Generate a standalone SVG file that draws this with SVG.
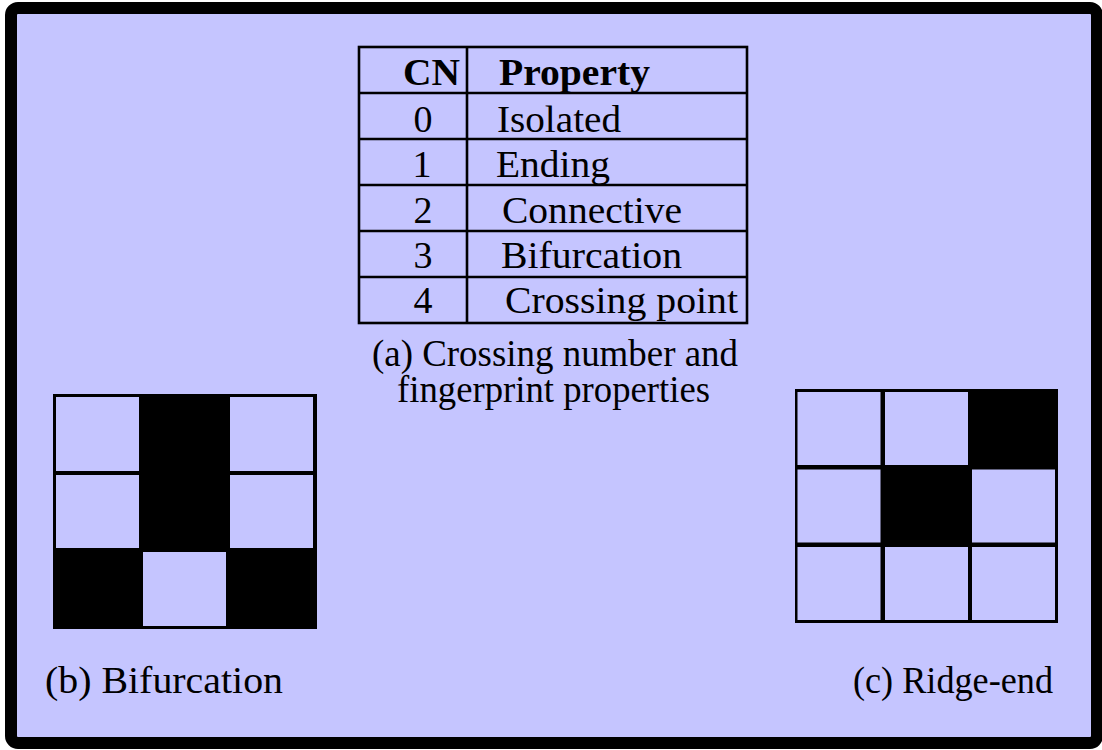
<svg xmlns="http://www.w3.org/2000/svg" width="1102" height="750" viewBox="0 0 1102 750">
<style>
.t{font-family:"Liberation Serif","Times New Roman",serif;font-size:38px;fill:#000}
.b{font-weight:bold}
.m{text-anchor:middle}
.ln{stroke:#000;stroke-width:2.6;fill:none}
.c{fill:#c5c5ff}
</style>
<g id="frame">
<rect x="11" y="8" width="1086" height="735" rx="7" fill="#c5c5ff" stroke="#000" stroke-width="12"/>
</g>
<g id="table">
<rect class="ln" x="359" y="47" width="388" height="276"/>
<line class="ln" x1="467" y1="47" x2="467" y2="323"/>
<line class="ln" x1="359" y1="93" x2="747" y2="93"/>
<line class="ln" x1="359" y1="139" x2="747" y2="139"/>
<line class="ln" x1="359" y1="185" x2="747" y2="185"/>
<line class="ln" x1="359" y1="231" x2="747" y2="231"/>
<line class="ln" x1="359" y1="277" x2="747" y2="277"/>
<text class="t b" x="403" y="85" textLength="57" lengthAdjust="spacingAndGlyphs">CN</text>
<text class="t b" x="499" y="85" textLength="151" lengthAdjust="spacingAndGlyphs">Property</text>
<text class="t m" x="423" y="132">0</text>
<text class="t m" x="422" y="177">1</text>
<text class="t m" x="423" y="223">2</text>
<text class="t m" x="423" y="268">3</text>
<text class="t m" x="423" y="313">4</text>
<text class="t" x="497" y="132" textLength="124" lengthAdjust="spacingAndGlyphs">Isolated</text>
<text class="t" x="496" y="177" textLength="114" lengthAdjust="spacingAndGlyphs">Ending</text>
<text class="t" x="502" y="223" textLength="180" lengthAdjust="spacingAndGlyphs">Connective</text>
<text class="t" x="501" y="268" textLength="181" lengthAdjust="spacingAndGlyphs">Bifurcation</text>
<text class="t" x="505" y="313" textLength="233" lengthAdjust="spacingAndGlyphs">Crossing point</text>
</g>
<g id="caption-a">
<text class="t" x="372" y="366" textLength="366" lengthAdjust="spacingAndGlyphs">(a) Crossing number and</text>
<text class="t" x="397" y="402" textLength="313" lengthAdjust="spacingAndGlyphs">fingerprint properties</text>
</g>
<g id="bifurcation">
<rect x="53" y="394" width="264" height="235" fill="#000"/>
<rect class="c" x="56" y="397" width="83" height="74"/>
<rect class="c" x="56" y="475" width="83" height="73"/>
<rect class="c" x="230" y="397" width="83" height="74"/>
<rect class="c" x="230" y="475" width="83" height="73"/>
<rect class="c" x="143" y="552" width="83" height="74"/>
<text class="t" x="45" y="693" textLength="238" lengthAdjust="spacingAndGlyphs">(b) Bifurcation</text>
</g>
<g id="ridge-end">
<rect x="795" y="389" width="263" height="234" fill="#000"/>
<rect class="c" x="797.5" y="392" width="83" height="73"/>
<rect class="c" x="885" y="392" width="83" height="73"/>
<rect class="c" x="797.5" y="469.5" width="83" height="73"/>
<rect class="c" x="972" y="469.5" width="83" height="73"/>
<rect class="c" x="797.5" y="547" width="83" height="73"/>
<rect class="c" x="885" y="547" width="83" height="73"/>
<rect class="c" x="972" y="547" width="83" height="73"/>
<text class="t" x="853" y="693" textLength="200" lengthAdjust="spacingAndGlyphs">(c) Ridge-end</text>
</g>
</svg>
